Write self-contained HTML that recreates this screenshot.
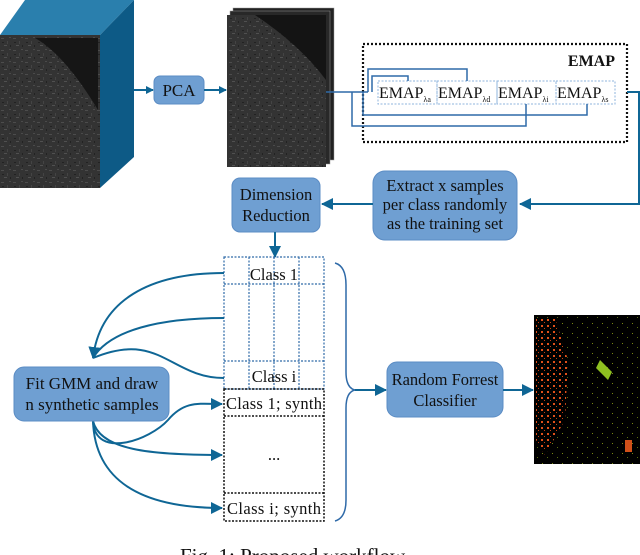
<!DOCTYPE html>
<html><head><meta charset="utf-8"><style>
html,body{margin:0;padding:0;background:#fff;width:640px;height:555px;overflow:hidden}
svg{display:block}
text{font-family:"Liberation Serif",serif;fill:#111}
</style></head><body>
<svg width="640" height="555" viewBox="0 0 640 555" xmlns="http://www.w3.org/2000/svg">
<defs>
<marker id="ah" markerWidth="8" markerHeight="8" refX="7" refY="4" orient="auto" markerUnits="userSpaceOnUse">
<path d="M0,0 L8,4 L0,8 z" fill="#0f6695"/></marker>
<marker id="ahb" markerWidth="12" markerHeight="12" refX="11" refY="6" orient="auto" markerUnits="userSpaceOnUse">
<path d="M0,0 L12,6 L0,12 z" fill="#0f6695"/></marker>
<pattern id="noise" width="12" height="12" patternUnits="userSpaceOnUse">
<rect width="12" height="12" fill="#333"/>
<rect x="1" y="2" width="3" height="1" fill="#4c4c4c"/><rect x="7" y="5" width="1" height="3" fill="#444"/>
<rect x="4" y="9" width="3" height="1" fill="#505050"/><rect x="9" y="1" width="2" height="1" fill="#4a4a4a"/>
<rect x="2" y="6" width="2" height="1" fill="#222"/><rect x="10" y="9" width="1" height="2" fill="#222"/>
</pattern>
<pattern id="cls" width="10" height="10" patternUnits="userSpaceOnUse">
<rect width="10" height="10" fill="#000"/>
<rect x="2" y="3" width="1" height="1" fill="#7a8a10"/><rect x="7" y="7" width="1" height="1" fill="#5a7010"/>
</pattern>
<pattern id="org" width="6" height="6" patternUnits="userSpaceOnUse">
<rect width="6" height="6" fill="#000"/>
<rect x="1" y="1" width="2" height="2" fill="#e0501a"/><rect x="4" y="4" width="1" height="1" fill="#c84010"/>
</pattern>
</defs>

<polygon points="25,0 134,0 100,35 0,35" fill="#2a7fad"/>
<polygon points="100,35 134,0 134,157 100,188" fill="#0d5a86"/>
<rect x="0" y="35" width="100" height="153" fill="url(#noise)"/>
<path d="M35,38 Q65,55 98,110 L98,38 z" fill="#161616"/>

<line x1="134" y1="90" x2="153" y2="90" stroke="#0f6695" stroke-width="2" marker-end="url(#ah)"/>
<rect x="154" y="76" width="50" height="28" rx="6" fill="#6f9fd2" stroke="#5b8cc4"/>
<text x="179" y="96" font-size="17" text-anchor="middle">PCA</text>
<line x1="204" y1="90" x2="226" y2="90" stroke="#0f6695" stroke-width="2" marker-end="url(#ah)"/>

<rect x="233" y="8" width="101" height="152" fill="#222" stroke="#999" stroke-width="0.5"/>
<rect x="230" y="11" width="100" height="153" fill="#282828" stroke="#999" stroke-width="0.5"/>
<rect x="227" y="15" width="99" height="152" fill="url(#noise)"/>
<path d="M255,15 Q300,45 326,80 L326,15 z" fill="#141414"/>

<rect x="363" y="44" width="264" height="98" fill="none" stroke="#111" stroke-width="2.2" stroke-dasharray="2,2"/>
<text x="615" y="66" font-size="16" font-weight="bold" text-anchor="end">EMAP</text>
<g fill="none" stroke="#8fb4de" stroke-width="1" stroke-dasharray="2,1.5">
<rect x="378" y="81" width="59" height="23"/><rect x="437" y="81" width="60" height="23"/>
<rect x="497" y="81" width="59" height="23"/><rect x="556" y="81" width="59" height="23"/>
</g>
<g font-size="16">
<text x="379" y="98">EMAP<tspan font-size="8" dy="4">λa</tspan></text>
<text x="438" y="98">EMAP<tspan font-size="8" dy="4">λd</tspan></text>
<text x="498" y="98">EMAP<tspan font-size="8" dy="4">λi</tspan></text>
<text x="557" y="98">EMAP<tspan font-size="8" dy="4">λs</tspan></text>
</g>
<g fill="none" stroke="#2f6aa8" stroke-width="1.5">
<path d="M326,92 L368,92"/>
<path d="M352,92 L352,126 L526,126 L526,104"/>
<path d="M363,92 L363,115 L587,115 L587,104"/>
<path d="M368,92 L368,69 L467,69 L467,81"/>
<path d="M372,92 L372,76 L408,76 L408,81"/>
</g>
<path d="M627,92 L639,92 L639,204 L520,204" fill="none" stroke="#0f6695" stroke-width="2" marker-end="url(#ahb)"/>

<rect x="373" y="171" width="144" height="69" rx="12" fill="#6f9fd2" stroke="#5b8cc4"/>
<g font-size="16.5" text-anchor="middle">
<text x="445" y="191">Extract x samples</text>
<text x="445" y="210">per class randomly</text>
<text x="445" y="229">as the training set</text>
</g>
<line x1="373" y1="204" x2="322" y2="204" stroke="#0f6695" stroke-width="2" marker-end="url(#ahb)"/>

<rect x="232" y="178" width="88" height="54" rx="8" fill="#6f9fd2" stroke="#5b8cc4"/>
<g font-size="16.5" text-anchor="middle">
<text x="276" y="200">Dimension</text>
<text x="276" y="221">Reduction</text>
</g>
<line x1="275" y1="232" x2="275" y2="257" stroke="#0f6695" stroke-width="2" marker-end="url(#ahb)"/>

<g fill="none" stroke="#2f6aa8" stroke-width="1.2" stroke-dasharray="2,1.5">
<rect x="224" y="257" width="100" height="132"/>
<line x1="224" y1="284" x2="324" y2="284"/><line x1="224" y1="361" x2="324" y2="361"/>
<line x1="249" y1="257" x2="249" y2="389"/><line x1="274" y1="257" x2="274" y2="389"/><line x1="299" y1="257" x2="299" y2="389"/>
</g>
<g fill="none" stroke="#111" stroke-width="1.5" stroke-dasharray="2,1.5">
<rect x="224" y="389" width="100" height="132"/>
<line x1="224" y1="416" x2="324" y2="416"/><line x1="224" y1="493" x2="324" y2="493"/>
</g>
<g font-size="16.5" text-anchor="middle">
<text x="274" y="280">Class 1</text>
<text x="274" y="382">Class i</text>
<text x="274" y="409" textLength="96">Class 1; synth</text>
<text x="274" y="460">...</text>
<text x="274" y="514" textLength="94">Class i; synth</text>
</g>

<g fill="none" stroke="#0f6695" stroke-width="2">
<path d="M224,273 C150,273 100,300 93,358" marker-end="url(#ahb)"/>
<path d="M224,318 C160,318 110,330 93,358"/>
<path d="M224,378 C170,378 160,330 93,358"/>
<path d="M93,421 C95,460 150,440 168,420 C185,400 200,404 222,404" marker-end="url(#ahb)"/>
<path d="M93,421 C100,450 150,455 222,455" marker-end="url(#ahb)"/>
<path d="M93,421 C95,480 140,508 222,508" marker-end="url(#ahb)"/>
</g>
<rect x="14" y="367" width="155" height="54" rx="10" fill="#6f9fd2" stroke="#5b8cc4"/>
<g font-size="17" text-anchor="middle">
<text x="92" y="389">Fit GMM and draw</text>
<text x="92" y="410">n synthetic samples</text>
</g>

<path d="M335,263 Q346,266 346,285 L346,372 Q346,388 355,390 Q346,392 346,408 L346,500 Q346,518 335,521" fill="none" stroke="#2f6aa8" stroke-width="1.5"/>
<line x1="355" y1="390" x2="386" y2="390" stroke="#0f6695" stroke-width="2" marker-end="url(#ahb)"/>

<rect x="387" y="362" width="116" height="55" rx="10" fill="#6f9fd2" stroke="#5b8cc4"/>
<g font-size="16.5" text-anchor="middle">
<text x="445" y="385">Random Forrest</text>
<text x="445" y="406">Classifier</text>
</g>
<line x1="503" y1="390" x2="533" y2="390" stroke="#0f6695" stroke-width="2" marker-end="url(#ahb)"/>
<rect x="534" y="315" width="106" height="149" fill="url(#cls)"/>
<path d="M536,318 L555,318 L568,360 L565,420 L545,455 L536,440 z" fill="url(#org)"/>
<path d="M600,360 L612,372 L608,380 L596,368 z" fill="#8ec020"/>
<path d="M625,440 L632,440 L632,452 L625,452 z" fill="#d0501a"/>

<text x="180" y="563" font-size="21" fill="#111">Fig. 1: Proposed workflow</text>
</svg>
</body></html>
